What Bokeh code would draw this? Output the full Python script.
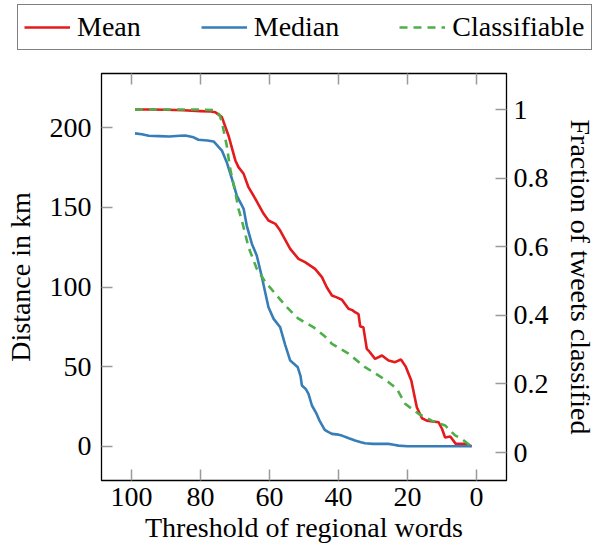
from bokeh.plotting import figure
from bokeh.layouts import column
from bokeh.models import (Range1d, LinearAxis, FixedTicker, Legend, LegendItem)
from bokeh.embed import file_html
from bokeh.resources import INLINE

# ---- data ----
mean_x = [99, 95, 90, 85, 80, 77, 75.7, 73.8, 71.9, 69.9, 69, 67.5, 66.1, 64.1, 61.7,
          60.3, 58.3, 56.9, 54, 51.6, 49.7, 46.8, 44.8, 43.4, 41.9, 40.5, 39, 37.1, 36,
          35.2, 34.2, 33.7, 32.8, 31.8, 31.3, 29.4, 27.4, 25.5, 23.6, 21.9, 20.5, 18.9,
          17.3, 15.8, 14.4, 11, 10, 9.1, 7.6, 6, 3.3, 1.4]
mean_y = [211.5, 211.5, 211.3, 211, 210.5, 210.2, 209.8, 206.7, 195.2, 179.5, 175.3,
          171.1, 162.7, 155.4, 146, 141.8, 139.7, 135.5, 124, 117.7, 115.6, 111.4, 106.2,
          99.9, 94.7, 93.5, 92, 86.3, 85.5, 84.2, 83, 75.2, 74.8, 61.2, 60.1, 54.9, 57,
          53.8, 52.8, 54.5, 50, 41.3, 24.5, 17.6, 16.1, 15.1, 11, 5.5, 6.1, 1.5, 1.5, 0]

median_x = [99, 97, 95, 92, 89, 86, 84.4, 82, 80.6, 78, 76.2, 73.8, 72.4, 70.9, 69.5,
            68.5, 67.5, 66.6, 65.1, 63.7, 62.2, 60.3, 58.8, 56.9, 55.5, 54, 53, 51.8,
            51, 50.6, 49.5, 48.7, 47.7, 46.5, 45.5, 44, 43, 41.9, 40, 39, 37, 35.2,
            33.5, 32.3, 30, 27, 25.5, 24, 22.6, 20, 15, 10, 5, 1.4]
median_y = [196.5, 196, 195, 194.8, 194.5, 195, 195.2, 194, 192.5, 192, 191.4, 185.7,
            178.4, 168, 157.5, 153.3, 149.1, 138.6, 127.1, 119.8, 106.2, 87.3, 80,
            74.7, 64, 53.8, 52, 49.6, 44, 38.1, 36, 32.9, 25.6, 21, 16.1, 10.3, 9, 7.8,
            7.3, 6.7, 5, 3.6, 2.5, 1.9, 1.5, 1.5, 1.5, 1, 0.4, 0, 0, 0, 0, 0]

class_x = [99, 90, 80, 76, 74.5, 73.8, 72.4, 71.4, 69.9, 69, 68, 66.1, 63.7, 61.2, 57.9,
           55, 51.6, 47.2, 43.9, 41.9, 37.1, 32.3, 28, 25.5, 23.1, 20.7, 16.8, 13, 9.1,
           6.2, 4.3, 1.4]
class_y = [1.0, 1.0, 1.0, 0.998, 0.985, 0.963, 0.895, 0.827, 0.759, 0.71, 0.676, 0.599,
           0.536, 0.497, 0.458, 0.424, 0.39, 0.365, 0.338, 0.317, 0.288, 0.249, 0.222,
           0.205, 0.186, 0.142, 0.113, 0.093, 0.079, 0.05, 0.04, 0.017]

series_names = ["Mean", "Median", "Classifiable"]
x_ticks = [0, 20, 40, 60, 80, 100]
left_ticks = [0, 50, 100, 150, 200]
right_ticks = [0, 0.2, 0.4, 0.6, 0.8, 1.0]

RED = "#e41a1c"
BLUE = "#377eb8"
GREEN = "#4daf4a"
FONT = "Liberation Serif"
FS = "28px"
TICK_COLOR = "#9a9a9a"
DASH = "8 6"
LW = 2.6

p = figure(frame_width=405, frame_height=407,
           x_range=Range1d(108.7, -8.7), y_range=Range1d(-21.5, 234.1),
           output_backend="svg", toolbar_location=None,
           min_border_left=101, min_border_right=87, min_border_top=15,
           min_border_bottom=70)
p.frame_align = False
p.extra_y_ranges = {"frac": Range1d(-0.0816, 1.105)}

p.xgrid.visible = False
p.ygrid.visible = False
p.outline_line_color = "black"
p.outline_line_width = 1.3
p.background_fill_color = "white"
p.border_fill_color = "white"

p.line(mean_x, mean_y, line_color=RED, line_width=LW)
p.line(median_x, median_y, line_color=BLUE, line_width=LW)
p.line(class_x, class_y, line_color=GREEN, line_width=LW,
       line_dash=DASH, y_range_name="frac")


def style(ax):
    ax.axis_line_color = None
    ax.major_tick_in = 11
    ax.major_tick_out = 0
    ax.minor_tick_line_color = None
    ax.major_tick_line_color = TICK_COLOR
    ax.major_tick_line_width = 1.5
    ax.major_label_text_font = FONT
    ax.major_label_text_font_size = FS
    ax.major_label_text_color = "black"
    ax.axis_label_text_font = FONT
    ax.axis_label_text_font_size = FS
    ax.axis_label_text_font_style = "normal"
    ax.axis_label_text_color = "black"


xa = p.xaxis[0]
style(xa)
xa.ticker = FixedTicker(ticks=x_ticks)
xa.axis_label = "Threshold of regional words"
xa.major_label_standoff = 7
xa.axis_label_standoff = 3

ya = p.yaxis[0]
style(ya)
ya.ticker = FixedTicker(ticks=left_ticks)
ya.axis_label = "Distance in km"
ya.major_label_standoff = 10
ya.axis_label_standoff = 11

ra = LinearAxis(y_range_name="frac", ticker=FixedTicker(ticks=right_ticks),
                axis_label="Fraction of tweets classified")
style(ra)
ra.major_label_overrides = {0: "0", 0.2: "0.2", 0.4: "0.4", 0.6: "0.6",
                            0.8: "0.8", 1.0: "1"}
ra.major_label_standoff = 7
ra.axis_label_standoff = 13
p.add_layout(ra, "right")

ta = LinearAxis(ticker=FixedTicker(ticks=x_ticks))
style(ta)
ta.major_label_overrides = {t: "" for t in x_ticks}
ta.major_label_standoff = 0
p.add_layout(ta, "above")

# ---- legend in its own strip above the plot ----
lg = figure(width=593, height=58, x_range=Range1d(0, 1), y_range=Range1d(0, 1),
            x_axis_type=None, y_axis_type=None, output_backend="svg",
            toolbar_location=None, min_border=0)
lg.frame_align = False
lg.outline_line_color = None
lg.xgrid.visible = False
lg.ygrid.visible = False
# one-row stand-ins (a single-point line draws nothing) so the legend keys render
k_mean = lg.line(mean_x[:1], mean_y[:1], line_color=RED, line_width=LW)
k_med = lg.line(median_x[:1], median_y[:1], line_color=BLUE, line_width=LW)
k_cls = lg.line(class_x[:1], class_y[:1], line_color=GREEN, line_width=LW,
                line_dash=DASH)

legend = Legend(items=[LegendItem(label=series_names[0], renderers=[k_mean]),
                       LegendItem(label=series_names[1], renderers=[k_med]),
                       LegendItem(label=series_names[2], renderers=[k_cls])],
                orientation="horizontal", location=(17, 8),
                label_text_font=FONT, label_text_font_size=FS,
                label_text_color="black",
                glyph_width=46, glyph_height=20, label_standoff=7, spacing=60,
                padding=6, margin=0,
                border_line_color="black", border_line_width=1.2,
                background_fill_color="white", background_fill_alpha=1.0)
lg.add_layout(legend, "center")

layout = column(lg, p, spacing=0)
open("out.html", "w").write(file_html(layout, INLINE))
